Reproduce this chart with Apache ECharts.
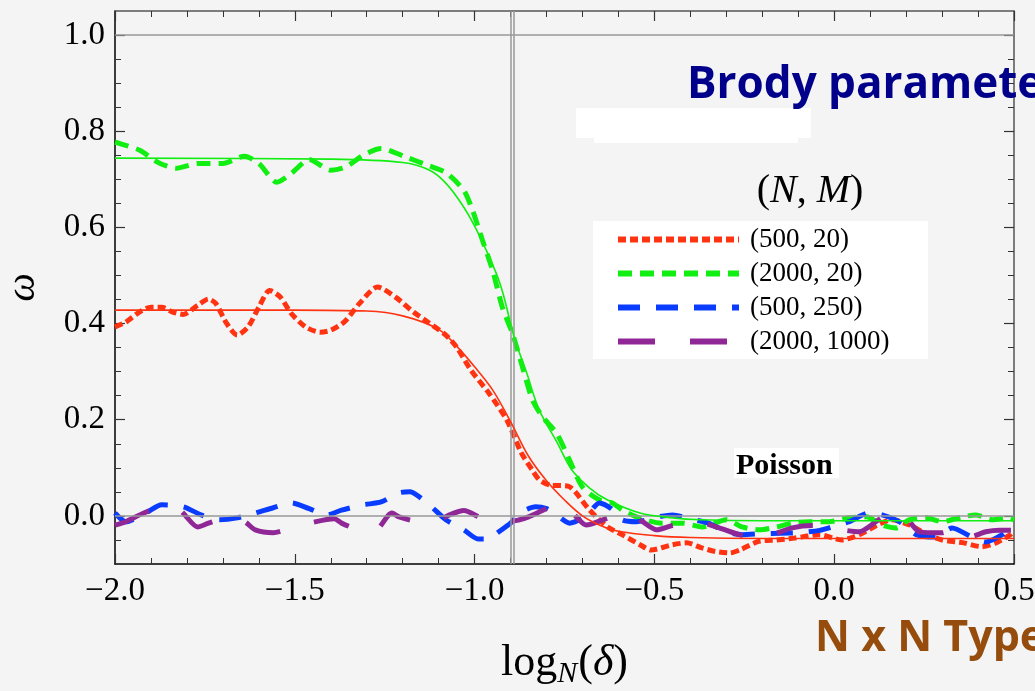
<!DOCTYPE html>
<html><head><meta charset="utf-8">
<script src="https://cdn.jsdelivr.net/npm/echarts@6/dist/echarts.min.js"></script>
<style>html,body{margin:0;padding:0;background:#f4f4f4}#c{width:1035px;height:691px}</style>
</head><body><div id="c"></div>
<script>
// ---- tick labels / axes ----
const xRange = [-2.0, 0.5];
const yRange = [-0.1, 1.05];
const yTicks = [0.0, 0.2, 0.4, 0.6, 0.8, 1.0];
const yMinorTicks = [-0.05, 0.05, 0.1, 0.15, 0.25, 0.3, 0.35, 0.45, 0.5, 0.55, 0.65, 0.7, 0.75, 0.85, 0.9, 0.95];
const hRefLines = [0.0, 1.0];
const vRefLines = [-0.9, -0.8875];

// ---- legend names ----
const seriesNames = ['(500, 20)', '(2000, 20)', '(500, 250)', '(2000, 1000)'];

// ---- fitted curves (solid) ----
const redFitX = [-2.0,-1.5,-1.3,-1.2,-1.1,-1.05,-1.0,-0.95,-0.9,-0.85,-0.8,-0.75,-0.7,-0.65,-0.6,-0.5,-0.4,-0.2,0.5];
const redFitY = [0.428,0.428,0.426,0.416,0.388,0.353,0.310,0.262,0.196,0.124,0.073,0.033,0.000,-0.020,-0.032,-0.041,-0.045,-0.047,-0.047];
const greenFitX = [-2.0,-1.4,-1.2,-1.125,-1.08,-1.03,-0.99,-0.94,-0.92,-0.89,-0.855,-0.82,-0.77,-0.73,-0.68,-0.63,-0.54,-0.45,-0.37,-0.2,0.5];
const greenFitY = [0.744,0.742,0.735,0.719,0.692,0.642,0.588,0.505,0.460,0.372,0.297,0.220,0.152,0.096,0.058,0.033,0.006,-0.004,-0.008,-0.010,-0.010];

// ---- data curves ----
const red500x20X = [-2.00,-1.97,-1.93,-1.90,-1.87,-1.84,-1.81,-1.77,-1.74,-1.72,-1.69,-1.66,-1.63,-1.60,-1.57,-1.54,-1.51,-1.47,-1.43,-1.40,-1.36,-1.32,-1.27,-1.22,-1.17,-1.13,-1.08,-1.05,-1.01,-0.96,-0.91,-0.87,-0.84,-0.82,-0.79,-0.74,-0.72,-0.68,-0.63,-0.59,-0.54,-0.51,-0.45,-0.41,-0.37,-0.33,-0.29,-0.26,-0.21,-0.16,-0.11,-0.04,0.02,0.07,0.12,0.16,0.21,0.26,0.30,0.36,0.41,0.45,0.49,0.50];
const red500x20Y = [0.393,0.403,0.425,0.434,0.434,0.424,0.419,0.438,0.451,0.442,0.401,0.376,0.393,0.434,0.469,0.455,0.421,0.393,0.382,0.386,0.405,0.442,0.476,0.455,0.424,0.403,0.376,0.351,0.303,0.255,0.199,0.131,0.096,0.075,0.064,0.062,0.050,0.012,-0.023,-0.039,-0.060,-0.071,-0.060,-0.056,-0.066,-0.074,-0.077,-0.070,-0.053,-0.050,-0.046,-0.039,-0.050,-0.039,-0.019,-0.008,-0.019,-0.039,-0.050,-0.056,-0.064,-0.056,-0.039,-0.030];

const green2000x20X = [-2.00,-1.99,-1.93,-1.88,-1.83,-1.77,-1.70,-1.64,-1.60,-1.55,-1.51,-1.46,-1.40,-1.36,-1.31,-1.26,-1.19,-1.13,-1.08,-1.03,-1.006,-0.978,-0.95,-0.922,-0.895,-0.867,-0.839,-0.811,-0.772,-0.736,-0.70,-0.653,-0.617,-0.589,-0.542,-0.48,-0.42,-0.367,-0.30,-0.256,-0.208,-0.161,-0.117,-0.069,-0.014,0.042,0.089,0.133,0.172,0.208,0.256,0.30,0.356,0.394,0.439,0.486,0.50];
const green2000x20Y = [0.777,0.775,0.760,0.735,0.723,0.733,0.733,0.748,0.733,0.694,0.712,0.741,0.719,0.725,0.750,0.764,0.746,0.729,0.714,0.677,0.636,0.573,0.511,0.432,0.380,0.310,0.241,0.206,0.172,0.116,0.060,0.033,0.027,0.012,-0.004,-0.015,-0.015,-0.023,-0.008,-0.023,-0.029,-0.023,-0.015,-0.012,-0.012,-0.004,-0.002,-0.019,-0.025,-0.008,-0.004,-0.012,-0.002,0.002,-0.008,-0.004,-0.008];

const blue500x250X = [-2.00,-1.97,-1.91,-1.87,-1.81,-1.76,-1.71,-1.66,-1.61,-1.56,-1.51,-1.46,-1.41,-1.37,-1.31,-1.26,-1.21,-1.18,-1.16,-1.12,-1.08,-1.03,-0.99,-0.96,-0.94,-0.90,-0.87,-0.83,-0.80,-0.772,-0.736,-0.70,-0.68,-0.653,-0.62,-0.59,-0.55,-0.49,-0.45,-0.39,-0.35,-0.30,-0.256,-0.20,-0.15,-0.097,-0.04,-0.006,0.042,0.097,0.133,0.181,0.228,0.283,0.328,0.383,0.422,0.467,0.50];
const blue500x250Y = [0.006,-0.012,0.008,0.023,0.019,0.002,-0.008,-0.004,0.006,0.017,0.027,0.015,0.002,0.012,0.023,0.029,0.048,0.050,0.043,0.019,-0.008,-0.029,-0.048,-0.048,-0.037,-0.015,0.008,0.019,0.015,0.002,-0.015,-0.005,0.008,0.027,0.015,-0.008,-0.012,-0.002,0.002,-0.008,-0.015,-0.033,-0.039,-0.037,-0.036,-0.035,-0.030,-0.023,-0.012,0.006,0.002,-0.012,-0.039,-0.044,-0.025,-0.044,-0.054,-0.039,-0.018];

const purple2000x1000X = [-2.00,-1.97,-1.92,-1.87,-1.82,-1.77,-1.74,-1.69,-1.64,-1.61,-1.56,-1.51,-1.46,-1.39,-1.37,-1.32,-1.28,-1.23,-1.21,-1.16,-1.12,-1.07,-1.03,-0.98,-0.93,-0.875,-0.85,-0.80,-0.756,-0.717,-0.69,-0.63,-0.578,-0.533,-0.494,-0.45,-0.403,-0.367,-0.32,-0.26,-0.21,-0.117,-0.06,-0.014,0.022,0.069,0.12,0.161,0.208,0.236,0.27,0.30,0.339,0.375,0.422,0.46,0.50];
const purple2000x1000Y = [-0.019,-0.012,0.006,0.018,0.012,-0.023,-0.015,-0.005,-0.012,-0.029,-0.035,-0.025,-0.015,-0.006,-0.015,-0.030,-0.033,0.006,-0.002,-0.012,-0.015,0.002,0.011,-0.005,-0.015,-0.008,-0.002,0.015,0.027,-0.002,-0.019,-0.005,0.006,-0.012,-0.029,-0.020,-0.015,-0.015,-0.025,-0.040,-0.046,-0.025,-0.020,-0.023,-0.029,-0.033,-0.010,0.008,-0.012,-0.033,-0.035,-0.035,-0.025,-0.044,-0.033,-0.030,-0.030];

const zip = (xs, ys) => xs.map((x, i) => [x, ys[i]]);
const fmt = v => (v < 0 ? '\u2212' + Math.abs(v).toFixed(1) : v.toFixed(1));

const RED = '#ff3311', GREEN = '#11ee11', BLUE = '#0a3cff', PURPLE = '#8f2797';
const SERIF = '"Liberation Serif", "Times New Roman", serif';

const chart = echarts.init(document.getElementById('c'), null, {renderer: 'canvas'});

const dataLine = (name, xs, ys, color, dash, z) => ({
  name, type: 'line', data: zip(xs, ys), symbol: 'none', smooth: 0.25, z,
  lineStyle: {color, width: 5, type: dash, cap: 'butt'}, itemStyle: {color},
  emphasis: {disabled: true}, silent: true
});
const fitLine = (name, xs, ys, color) => ({
  name, type: 'line', data: zip(xs, ys), symbol: 'none', smooth: 0.35, z: 6,
  lineStyle: {color, width: 1.6}, itemStyle: {color}, emphasis: {disabled: true}, silent: true
});

const baseX = (pos, color, showLabel) => ({
  type: 'value', position: pos, min: xRange[0], max: xRange[1], interval: 0.5,
  axisLine: {show: true, onZero: false, lineStyle: {color, width: 1.5}},
  axisTick: {show: true, inside: true, length: 10, lineStyle: {color: '#333', width: 1.2}},
  minorTick: {show: true, splitNumber: 5, length: 6, lineStyle: {color: '#333', width: 1}},
  axisLabel: {show: showLabel, formatter: fmt, fontFamily: SERIF, fontSize: 33, color: '#000', margin: 11,
              hideOverlap: false, showMinLabel: true, showMaxLabel: true},
  splitLine: {show: false}
});
const baseY = (pos, color, major, showLabel) => ({
  type: 'value', position: pos, min: yRange[0], max: yRange[1],
  axisLine: {show: major, onZero: false, lineStyle: {color, width: 1.5}},
  axisTick: {show: true, inside: true, length: major ? 10 : 6, customValues: major ? yTicks : yMinorTicks,
             lineStyle: {color: '#333', width: major ? 1.2 : 1}},
  axisLabel: {show: showLabel, customValues: yTicks, formatter: fmt, fontFamily: SERIF, fontSize: 33, color: '#000', margin: 10},
  splitLine: {show: false}
});

const yMain = baseY('left', '#000', true, true);
yMain.name = 'ω';
yMain.nameLocation = 'middle';
yMain.nameRotate = 90;
yMain.nameGap = 72;
yMain.nameTextStyle = {fontFamily: SERIF, fontStyle: 'italic', fontSize: 40, color: '#000'};

const xMain = baseX('bottom', '#000', true);
xMain.name = '{a|log}{s|N}{a|(}{d|δ}{a|)}';
xMain.nameLocation = 'middle';
xMain.nameGap = 73;
xMain.nameTextStyle = {
  rich: {
    a: {fontFamily: SERIF, fontSize: 44, color: '#000'},
    d: {fontFamily: SERIF, fontSize: 44, fontStyle: 'italic', color: '#000'},
    s: {fontFamily: SERIF, fontSize: 30, fontStyle: 'italic', color: '#000', padding: [22, 1, 0, 0]}
  }
};

const option = {
  backgroundColor: '#f4f4f4',
  animation: false,
  grid: {left: 115, right: 21, top: 11, bottom: 127, containLabel: false, outerBoundsMode: 'none'},
  xAxis: [xMain, baseX('top', '#555', false)],
  yAxis: [yMain, baseY('left', '#000', false, false), baseY('right', '#555', true, false), baseY('right', '#555', false, false)],
  legend: {
    data: seriesNames, orient: 'vertical', left: 615, top: 226, itemWidth: 121, itemHeight: 14, itemGap: 7,
    z: 10, selectedMode: false, backgroundColor: 'transparent', padding: 0,
    textStyle: {fontFamily: SERIF, fontSize: 27, color: '#000', padding: [0, 0, 0, 6]},
    itemStyle: {color: 'rgba(0,0,0,0)', borderWidth: 0, opacity: 0},
    lineStyle: {width: 6}
  },
  series: [
    {
      name: 'ref', type: 'line', data: [], z: 1, silent: true,
      markLine: {
        silent: true, symbol: 'none', label: {show: false}, animation: false,
        lineStyle: {color: '#999', width: 1.5, type: 'solid'},
        emphasis: {disabled: true},
        data: hRefLines.map(v => ({yAxis: v})).concat(vRefLines.map(v => ({xAxis: v})))
      }
    },
    dataLine(seriesNames[0], red500x20X, red500x20Y, RED, [8, 4], 3),
    dataLine(seriesNames[1], green2000x20X, green2000x20Y, GREEN, [14, 8], 3),
    dataLine(seriesNames[2], blue500x250X, blue500x250Y, BLUE, [22, 16], 3),
    dataLine(seriesNames[3], purple2000x1000X, purple2000x1000Y, PURPLE, [37, 35], 3),
    fitLine('fit500', redFitX, redFitY, RED),
    fitLine('fit2000', greenFitX, greenFitY, GREEN)
  ],
  graphic: [
    {type: 'rect', shape: {x: 576, y: 108, width: 235, height: 30}, style: {fill: '#fff'}, z: 5, silent: true},
    {type: 'rect', shape: {x: 594, y: 108, width: 204, height: 35}, style: {fill: '#fff'}, z: 5, silent: true},
    {type: 'rect', shape: {x: 593, y: 221, width: 335, height: 138}, style: {fill: '#fff'}, z: 5, silent: true},
    {type: 'rect', shape: {x: 734, y: 448, width: 105, height: 30}, style: {fill: '#fff'}, z: 5, silent: true},
    {type: 'text', x: 736, y: 466, z: 7, silent: true,
     style: {text: 'Poisson', font: 'bold 30px ' + SERIF, fill: '#000', verticalAlign: 'middle', align: 'left'}},
    {type: 'text', x: 810, y: 191, z: 7, silent: true,
     style: {text: '{p|(}{i|N}{p|, }{i|M}{p|)}', align: 'center', verticalAlign: 'middle',
       rich: {p: {fontFamily: SERIF, fontSize: 40, fill: '#000'}, i: {fontFamily: SERIF, fontSize: 40, fontStyle: 'italic', fill: '#000'}}}},
    {type: 'text', x: 687, y: 85, z: 7, silent: true,
     style: {text: 'Brody parameter', font: 'bold 44px "Open Sans", sans-serif', fill: '#00008b', verticalAlign: 'middle', align: 'left'}},
    {type: 'text', x: 815, y: 639, z: 7, silent: true,
     style: {text: 'N x N Type', font: 'bold 43px "Open Sans", sans-serif', fill: '#954c0c', verticalAlign: 'middle', align: 'left'}}
  ]
};
chart.setOption(option);
</script>
</body></html>
